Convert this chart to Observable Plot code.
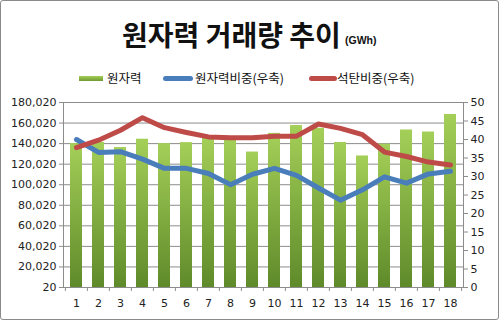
<!DOCTYPE html>
<html><head><meta charset="utf-8">
<script src="https://cdn.jsdelivr.net/npm/d3@7"></script>
<script src="https://cdn.jsdelivr.net/npm/@observablehq/plot@0.6"></script>
<style>
body{margin:0;background:#fff;}
#wrap{position:relative;width:500px;height:321px;overflow:hidden;font-family:"Noto Sans CJK KR",sans-serif;color:#111;}
#border{position:absolute;left:0;top:0;width:497px;height:318px;border:1px solid #8a8a8a;border-radius:3px;pointer-events:none;}
#head{position:relative;height:90px;}
#title{position:absolute;left:122px;top:19.5px;font-size:28px;line-height:28px;font-weight:bold;white-space:nowrap;}
#unit{position:absolute;left:345px;top:35px;font-family:"Liberation Sans",Arial,sans-serif;font-size:10.5px;line-height:11px;font-weight:bold;}
.lg{position:absolute;top:71.5px;font-size:12.5px;line-height:12.5px;white-space:nowrap;}
.sw{position:absolute;}
#plot svg{display:block;}
</style></head>
<body>
<div id="wrap">
  <div id="head">
    <div id="title">원자력 거래량 추이</div>
    <div id="unit">(GWh)</div>
    <div class="sw" style="left:79px;top:76px;width:24px;height:5px;background:linear-gradient(#a4cf58,#6f9a31);"></div>
    <div class="lg" style="left:107px;">원자력</div>
    <div class="sw" style="left:163px;top:76px;width:30px;height:5px;border-radius:3px;background:#4a7ebb;"></div>
    <div class="lg" style="left:195px;">원자력비중(우축)</div>
    <div class="sw" style="left:309px;top:76px;width:28px;height:5px;border-radius:3px;background:#be4b48;"></div>
    <div class="lg" style="left:337px;">석탄비중(우축)</div>
  </div>
  <div id="plot"></div>
  <div id="border"></div>
</div>
<script>
const categories = [1,2,3,4,5,6,7,8,9,10,11,12,13,14,15,16,17,18];
const nuclear = [140100,141200,136200,144300,140000,141000,145600,145000,131800,150000,157600,154900,141100,128000,139500,153300,151300,168400];
const nuclearShare = [40.0,36.5,36.7,34.7,32.2,32.2,30.8,27.8,30.6,32.2,30.3,26.9,23.6,26.4,29.9,28.2,30.7,31.4];
const coalShare = [37.8,39.8,42.5,45.9,43.2,41.9,40.7,40.5,40.5,40.9,40.9,44.2,43.0,41.3,36.6,35.4,33.9,33.1];
const leftTicks = [20,20020,40020,60020,80020,100020,120020,140020,160020,180020];
const rightTicks = [0,5,10,15,20,25,30,35,40,45,50];

const OFFSET = 20, RATIO = 3600;
const toLeft = v => OFFSET + v * RATIO;
const rows = categories.map((c, i) => ({cat: c, nuc: nuclear[i], ns: nuclearShare[i], cs: coalShare[i]}));
const W = 500, ML = 63, MR = 37;
const step = (W - ML - MR) / categories.length;
const grey = "#8c8c8c";

const plot = Plot.plot({
  width: W, height: 231, marginTop: 12, marginBottom: 34, marginLeft: ML, marginRight: MR,
  style: {fontFamily: "DejaVu Sans", fontSize: "11px", color: "#222", background: "transparent"},
  x: {type: "band", domain: categories, paddingInner: 0.45, paddingOuter: 0.225, label: null},
  y: {domain: [20, 180020], label: null},
  marks: [
    Plot.ruleY(leftTicks, {stroke: grey, strokeOpacity: 1}),
    Plot.barY(rows, {x: "cat", y1: 20, y2: "nuc", fill: "url(#barGrad)"}),
    Plot.frame({stroke: grey}),
    Plot.ruleX(categories, {x: d => d, dx: -step / 2, y1: 20, y2: 20 - 3900, stroke: grey}),
    Plot.ruleX([categories[categories.length - 1]], {x: d => d, dx: step / 2, y1: 20, y2: 20 - 3900, stroke: grey}),
    Plot.axisY(leftTicks, {anchor: "left", label: null, tickFormat: d3.format(","), tickSize: 4, tickPadding: 3, stroke: grey}),
    Plot.axisY(rightTicks.map(toLeft), {anchor: "right", label: null, tickFormat: d => String(Math.round((d - OFFSET) / RATIO)), tickSize: 4, tickPadding: 3, stroke: grey}),
    Plot.axisX(categories, {anchor: "bottom", label: null, tickSize: 0, tickPadding: 12}),
    Plot.line(rows, {x: "cat", y: d => toLeft(d.ns), stroke: "#4a7ebb", strokeWidth: 5, strokeLinejoin: "round", strokeLinecap: "round"}),
    Plot.line(rows, {x: "cat", y: d => toLeft(d.cs), stroke: "#be4b48", strokeWidth: 5, strokeLinejoin: "round", strokeLinecap: "round"})
  ]
});
const ns = "http://www.w3.org/2000/svg";
const defs = document.createElementNS(ns, "defs");
defs.innerHTML = '<linearGradient id="barGrad" x1="0" y1="0" x2="0" y2="1"><stop offset="0" stop-color="#a4cf58"/><stop offset="1" stop-color="#5f8a2a"/></linearGradient>';
plot.insertBefore(defs, plot.firstChild);
document.getElementById("plot").appendChild(plot);
</script>
</body></html>
